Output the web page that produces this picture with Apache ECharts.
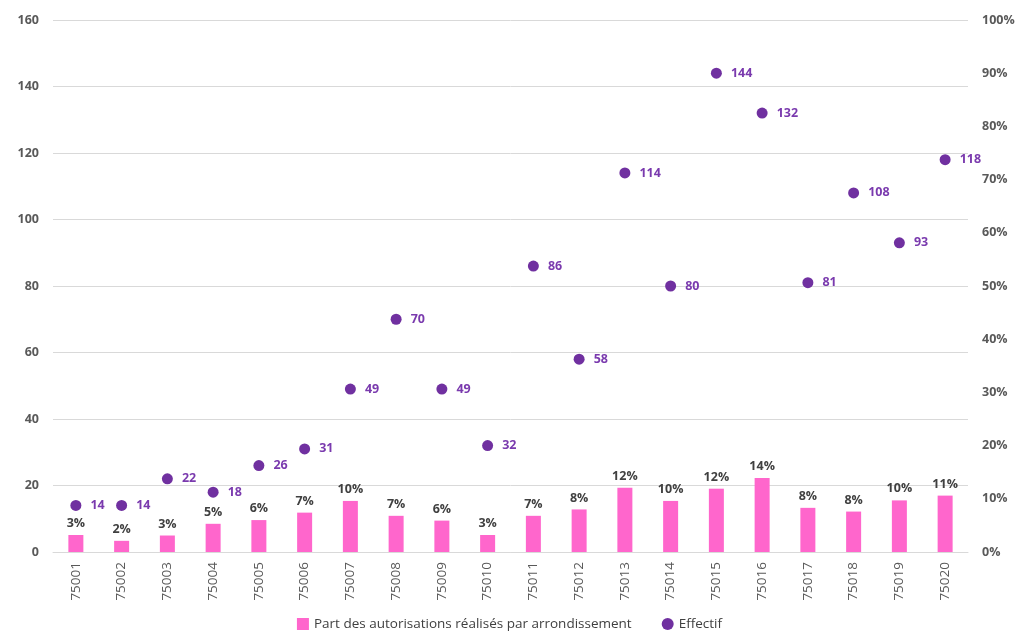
<!DOCTYPE html>
<html>
<head>
<meta charset="utf-8">
<script src="https://cdn.jsdelivr.net/npm/echarts@6/dist/echarts.min.js"></script>
<style>html,body{margin:0;padding:0;background:#fff}#c{width:1019px;height:637px}</style>
</head>
<body>
<div id="c"></div>
<script>
const categories = ['75001','75002','75003','75004','75005','75006','75007','75008','75009','75010','75011','75012','75013','75014','75015','75016','75017','75018','75019','75020'];
const partValues = [3.2,2.1,3.1,5.3,6.0,7.4,9.6,6.8,5.9,3.2,6.8,8.0,12.1,9.6,11.9,13.9,8.3,7.6,9.7,10.6];
const effectifValues = [14,14,22,18,26,31,49,70,49,32,86,58,114,80,144,132,81,108,93,118];
const leftTicks = {min:0, max:160, interval:20};
const rightTicks = {min:0, max:100, interval:10};

const FONT = '"Open Sans", sans-serif';
const chart = echarts.init(document.getElementById('c'));
chart.setOption({
  animation:false,
  textStyle:{fontFamily:FONT},
  grid:{left:53,right:51,top:20,bottom:85},
  legend:{
    top:615,left:'center',itemGap:30,itemWidth:12,itemHeight:12,padding:[2,5,2,5],
    textStyle:{color:'#404040',fontSize:13.5,fontFamily:FONT},
    data:[{name:'Part des autorisations réalisés par arrondissement',icon:'rect'},{name:'Effectif',icon:'circle'}]
  },
  xAxis:{
    type:'category',data:categories,
    axisLine:{lineStyle:{color:'#d9d9d9'}},
    axisTick:{show:false},
    axisLabel:{rotate:90,color:'#595959',fontSize:13.5,margin:10,fontFamily:FONT}
  },
  yAxis:[
    {type:'value',min:leftTicks.min,max:leftTicks.max,interval:leftTicks.interval,
     axisLine:{show:false},axisTick:{show:false},
     splitLine:{lineStyle:{color:'#d9d9d9'}},
     axisLabel:{color:'#595959',fontSize:12.5,fontWeight:'bold',margin:14,fontFamily:FONT}},
    {type:'value',min:rightTicks.min,max:rightTicks.max,interval:rightTicks.interval,
     axisLine:{show:false},axisTick:{show:false},splitLine:{show:false},
     axisLabel:{color:'#595959',fontSize:12.5,fontWeight:'bold',margin:14,formatter:'{value}%',fontFamily:FONT}}
  ],
  series:[
    {name:'Part des autorisations réalisés par arrondissement',type:'bar',yAxisIndex:1,
     data:partValues,barWidth:15,itemStyle:{color:'#FF66CC'},
     label:{show:true,position:'top',distance:5,color:'#404040',fontSize:12.5,fontWeight:'bold',
       formatter:p=>Math.round(p.value)+'%'}},
    {name:'Effectif',type:'scatter',yAxisIndex:0,data:effectifValues,symbolSize:11,
     itemStyle:{color:'#7030A0',opacity:1},
     label:{show:true,position:'right',distance:9,color:'#7A3AAE',fontSize:12.5,fontWeight:'bold'}}
  ]
});
</script>
</body>
</html>
